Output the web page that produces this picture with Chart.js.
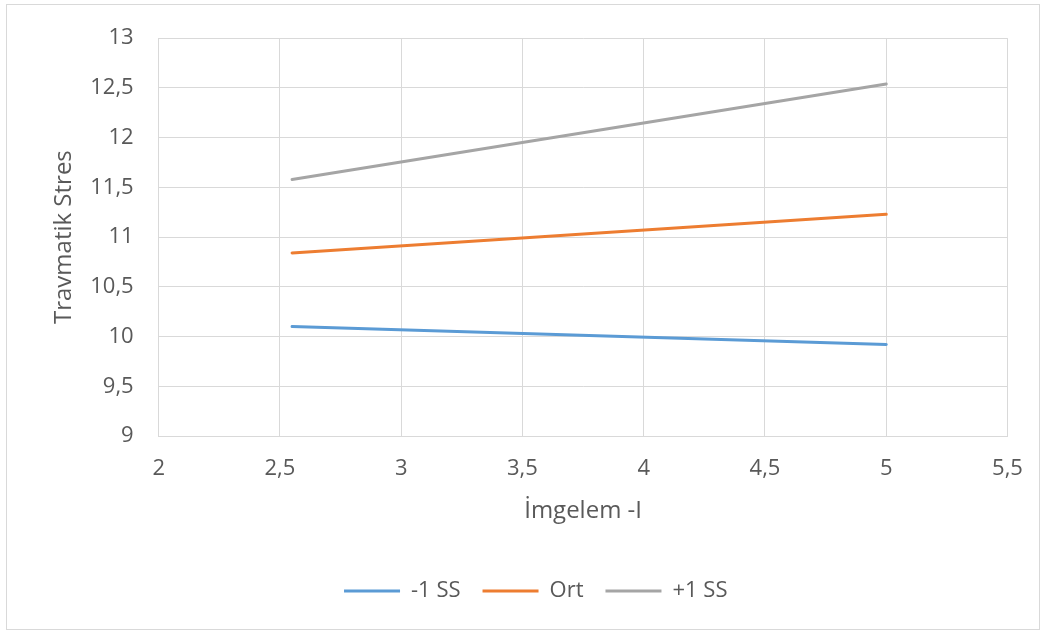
<!DOCTYPE html>
<html>
<head>
<meta charset="utf-8">
<script src="https://cdn.jsdelivr.net/npm/chart.js@4/dist/chart.umd.min.js"></script>
<style>
  html, body { margin: 0; padding: 0; background: #ffffff; }
  #wrap { position: relative; width: 1048px; height: 635px; }
  #frame { position: absolute; left: 6px; top: 4px; width: 1034px; height: 626px; border: 1px solid #d9d9d9; box-sizing: border-box; pointer-events: none; }
  canvas { position: absolute; left: 0; top: 0; }
</style>
</head>
<body>
<div id="wrap">
  <canvas id="c" width="1048" height="635"></canvas>
  <div id="frame"></div>
</div>
<script>
// ---- data ----
const xValues = [2.55, 5];
const seriesNames = ['-1 SS', 'Ort', '+1 SS'];
const minusOneSD = [10.10, 9.92];
const meanValues = [10.84, 11.23];
const plusOneSD = [11.58, 12.54];
const seriesColors = ['#5B9BD5', '#ED7D31', '#A5A5A5'];
const xAxisTitle = 'İmgelem -I';
const yAxisTitle = 'Travmatik Stres';
const xRange = [2, 5.5];
const yRange = [9, 13];
const tickStep = 0.5;

const toPoints = (ys) => xValues.map((x, i) => ({ x: x, y: ys[i] }));
const seriesValues = [minusOneSD, meanValues, plusOneSD];
const fmt = (v) => String(v).replace('.', ',');

const FONT = '"Open Sans", "DejaVu Sans", sans-serif';
const textColor = '#595959';
const gridColor = '#D9D9D9';

new Chart(document.getElementById('c'), {
  type: 'line',
  data: {
    datasets: seriesNames.map((name, i) => ({
      label: name,
      data: toPoints(seriesValues[i]),
      borderColor: seriesColors[i],
      backgroundColor: seriesColors[i],
      borderWidth: 3,
      borderCapStyle: 'round',
      pointRadius: 0,
      pointHoverRadius: 0,
      tension: 0,
      fill: false
    }))
  },
  options: {
    responsive: false,
    animation: false,
    devicePixelRatio: 1,
    layout: { padding: { left: 64, right: 40.5, top: 35, bottom: 23 } },
    plugins: {
      tooltip: { enabled: false },
      legend: {
        position: 'bottom',
        labels: {
          usePointStyle: true,
          pointStyle: 'line',
          pointStyleWidth: 56,
          padding: 22,
          color: textColor,
          font: { family: FONT, size: 22 }
        }
      }
    },
    scales: {
      x: {
        type: 'linear',
        min: xRange[0],
        max: xRange[1],
        border: { color: gridColor, width: 1 },
        grid: { color: gridColor, lineWidth: 1, drawTicks: false },
        ticks: {
          stepSize: tickStep,
          padding: 20,
          color: textColor,
          font: { family: FONT, size: 22 },
          callback: (v) => fmt(v),
          maxRotation: 0
        },
        title: {
          display: true,
          text: xAxisTitle,
          color: textColor,
          font: { family: FONT, size: 24 },
          padding: { top: 0, bottom: 32.5 }
        },
        afterFit: (s) => { s.height = 122; }
      },
      y: {
        type: 'linear',
        min: yRange[0],
        max: yRange[1],
        border: { color: gridColor, width: 1 },
        grid: { color: gridColor, lineWidth: 1, drawTicks: false },
        ticks: {
          stepSize: tickStep,
          padding: 25,
          color: textColor,
          font: { family: FONT, size: 22 },
          callback: (v) => fmt(v)
        },
        title: {
          display: true,
          text: yAxisTitle,
          color: textColor,
          font: { family: FONT, size: 24 },
          padding: { top: -14.4, bottom: 0 }
        },
        afterFit: (s) => { s.width = 94.7; }
      }
    }
  }
});
</script>
</body>
</html>
